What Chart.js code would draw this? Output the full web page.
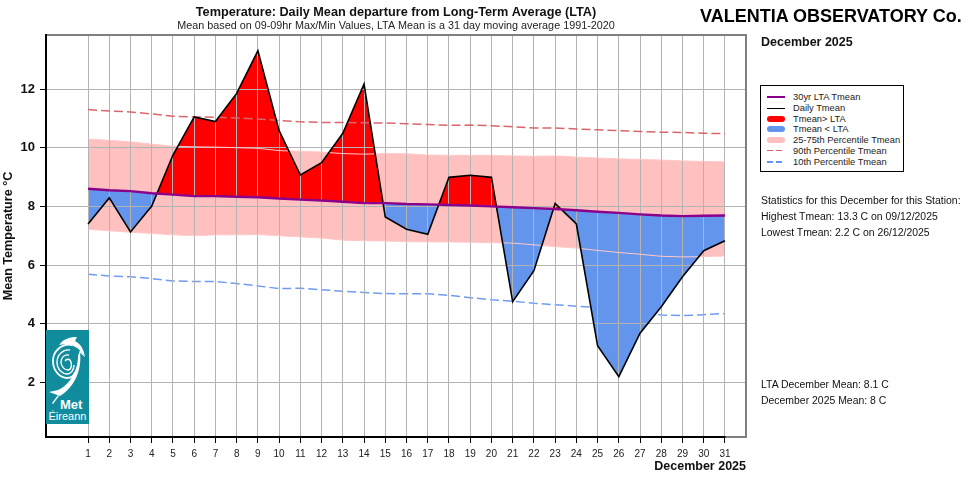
<!DOCTYPE html>
<html>
<head>
<meta charset="utf-8">
<title>Valentia Observatory December 2025</title>
<script src="https://cdn.jsdelivr.net/npm/chart.js@4"></script>
<style>
    html, body { margin: 0; padding: 0; background: #fff; }
    #wrap { position: relative; width: 970px; height: 479px; overflow: hidden; font-family: "Liberation Sans", Arial, sans-serif; color: #111; }
    #line-chart { position: absolute; left: 0; top: 0; }
    .txt { position: absolute; white-space: nowrap; }
    #legendBox { position: absolute; left: 760px; top: 85px; width: 142px; height: 85px; border: 1px solid #000; background: #fff; }
    .row { position: absolute; left: 32px; font-size: 9.33px; line-height: 11px; white-space: nowrap; color: #222; }
    .swatch { position: absolute; left: 6px; width: 18px; }
    #logo { position: absolute; left: 46px; top: 330px; }
</style>
</head>
<body>
<div id="wrap">
    <canvas id="line-chart" width="970" height="479"></canvas>

    <div class="txt" style="left:700px;top:6px;font-size:18px;font-weight:bold;color:#000">VALENTIA OBSERVATORY Co.</div>
    <div class="txt" style="left:761px;top:35px;font-size:12.5px;font-weight:bold">December 2025</div>

    <div id="legendBox"></div>

    <div class="txt" style="left:761px;top:195px;font-size:10.45px">Statistics for this December for this Station:</div>
    <div class="txt" style="left:761px;top:211px;font-size:10.45px">Highest Tmean: 13.3 C on 09/12/2025</div>
    <div class="txt" style="left:761px;top:227px;font-size:10.45px">Lowest Tmean: 2.2 C on 26/12/2025</div>
    <div class="txt" style="left:761px;top:379px;font-size:10.45px">LTA December Mean: 8.1 C</div>
    <div class="txt" style="left:761px;top:395px;font-size:10.45px">December 2025 Mean: 8 C</div>

    <svg id="logo" width="43" height="94" viewBox="46 330 43 94">
        <rect x="46" y="330" width="43" height="94" fill="#108c9c"/>
        <g fill="none" stroke="#fff">
            <path stroke-width="1.8" d="M72 345 C62 343 53 351 53 361 C53 372 61 378 67 378 C71 378 74 376 75 372"/>
            <path stroke-width="1.4" d="M70 350 C63 349 57 355 57 362 C57 370 63 374 67 374 C71 374 74 370 74 365"/>
            <path stroke-width="1.4" d="M69 355 C64 354 61 358 61 362 C61 367 65 370 68 370 C71 370 72 366 71 362 C70 359 67 358 65 361"/>
        </g>
        <path d="M59 345 C64 338 71 337 77 337 L75 341 C81 344 84 350 85 357 C81 350 73 342 59 345 Z" fill="#fff"/>
        <path d="M85 357 L80 353 C82 369 75 387 60 396 L49 392 L58 390 C70 385 78 370 78 356 L80 350 Z" fill="#fff"/>
        <path d="M52 403 L58 395 L59 396 L53 404 Z" fill="#fff"/>
        <text x="60" y="409" fill="#fff" font-size="13" font-weight="bold" font-family="Liberation Sans">Met</text>
        <text x="48.5" y="420" fill="#fff" font-size="11" font-family="Liberation Sans">Éireann</text>
    </svg>
</div>

<script>
var days = [1,2,3,4,5,6,7,8,9,10,11,12,13,14,15,16,17,18,19,20,21,22,23,24,25,26,27,28,29,30,31];
var daily = [7.40,8.29,7.13,8.01,9.75,11.05,10.89,11.85,13.30,10.58,9.07,9.49,10.49,12.17,7.64,7.22,7.05,8.99,9.06,8.99,4.75,5.81,8.10,7.40,3.25,2.20,3.68,4.58,5.60,6.49,6.83];
var lta = [8.60,8.55,8.52,8.45,8.40,8.35,8.35,8.33,8.31,8.27,8.23,8.20,8.16,8.11,8.11,8.08,8.07,8.05,8.03,8.00,7.97,7.94,7.91,7.87,7.82,7.78,7.73,7.69,7.67,7.68,7.69];
var p75 = [10.30,10.25,10.20,10.12,10.05,10.03,10.02,10.00,9.98,9.90,9.88,9.85,9.80,9.78,9.80,9.79,9.75,9.74,9.74,9.74,9.72,9.71,9.72,9.68,9.65,9.62,9.60,9.58,9.55,9.53,9.52];
var p25 = [7.22,7.17,7.12,7.08,7.03,7.00,7.03,7.03,7.04,7.00,6.96,6.92,6.85,6.83,6.82,6.80,6.79,6.79,6.78,6.76,6.75,6.69,6.63,6.58,6.50,6.43,6.37,6.30,6.28,6.29,6.31];
var p90 = [11.30,11.25,11.22,11.15,11.07,11.05,11.04,11.01,10.98,10.93,10.88,10.86,10.86,10.85,10.84,10.82,10.79,10.76,10.77,10.75,10.71,10.67,10.67,10.64,10.61,10.58,10.55,10.53,10.52,10.49,10.48];
var p10 = [5.69,5.63,5.60,5.54,5.46,5.44,5.44,5.37,5.29,5.20,5.21,5.16,5.11,5.07,5.03,5.02,5.02,4.97,4.89,4.82,4.77,4.70,4.65,4.60,4.55,4.48,4.43,4.30,4.28,4.31,4.35];
var yTickValues = [2,4,6,8,10,12];

var legendNames = ['30yr LTA Tmean','Daily Tmean','Tmean> LTA','Tmean < LTA','25-75th Percentile Tmean','90th Percentile Tmean','10th Percentile Tmean'];
var legendTops = [5,16,27,37,48,59,70];
var legendSwatches = [
    'height:2.5px;background:#8b008b',
    'height:1px;background:#000',
    'height:6px;background:#ff0000;border-radius:3px',
    'height:6px;background:#6495ed;border-radius:3px',
    'height:6px;background:#ffc0c0;border-radius:3px',
    'height:1.5px;background:repeating-linear-gradient(90deg,#e0606a 0 6px,transparent 6px 9px)',
    'height:1.5px;background:repeating-linear-gradient(90deg,#6495ed 0 6px,transparent 6px 9px)'
];
var swatchTops = [4.5,6,2.5,3,3,4.5,5];

// build the html legend
var legendBox = document.getElementById('legendBox');
legendNames.forEach(function(name, i) {
    var row = document.createElement('div');
    row.className = 'row';
    row.style.top = (legendTops[i] + 0.5) + 'px';
    row.textContent = name;
    legendBox.appendChild(row);
    var sw = document.createElement('div');
    sw.className = 'swatch';
    sw.style.cssText = legendSwatches[i];
    sw.style.top = (legendTops[i] + swatchTops[i]) + 'px';
    legendBox.appendChild(sw);
});

function toPoints(values) {
    return values.map(function(v, i) { return {x: days[i], y: v}; });
}

function lineSet(label, values, color, width, dash) {
    return {
        label: label,
        data: toPoints(values),
        borderColor: color,
        borderWidth: width,
        borderDash: dash || [],
        pointRadius: 0,
        tension: 0,
        fill: false
    };
}

// grid goes above the fills but under the lines, and the frame is grey with black axes
var gridAndFrame = {
    id: 'gridAndFrame',
    beforeDatasetDraw: function(chart, args) {
        if (chart.data.datasets[args.index].label === 'Fill') {
            chart.scales.x.drawGrid(chart.chartArea);
            chart.scales.y.drawGrid(chart.chartArea);
        }
    },
    afterDraw: function(chart) {
        var a = chart.chartArea;
        var c = chart.ctx;
        c.save();
        c.strokeStyle = '#7f7f7f';
        c.lineWidth = 2;
        c.strokeRect(a.left, a.top, a.right - a.left, a.bottom - a.top);
        c.strokeStyle = '#000';
        c.beginPath();
        c.moveTo(a.left, a.top - 1);
        c.lineTo(a.left, a.bottom + 1);
        c.moveTo(a.left, a.bottom);
        c.lineTo(chart.scales.x.getPixelForValue(31) + 0.5, a.bottom);
        c.stroke();
        c.restore();
    }
};

var ctx = document.getElementById('line-chart').getContext('2d');
var datasets = [
    lineSet('10th', p10, '#6f9cf0', 1.5, [9, 4]),
    Object.assign(lineSet('Band', p75, '#ffc0c0', 0), {fill: '+1', backgroundColor: '#ffc0c0'}),
    lineSet('Band low', p25, '#ffc0c0', 0),
    Object.assign(lineSet('Fill', daily, '#000', 0), {fill: {target: 8, above: '#ff0000', below: '#6495ed'}}),
    lineSet('75th', p75, '#ffc8c8', 1),
    lineSet('25th', p25, '#ffc8c8', 1),
    lineSet('90th', p90, '#d9666c', 1.5, [9, 4]),
    lineSet('Daily', daily, '#000', 1.6),
    lineSet('LTA', lta, '#8b008b', 2.4)
];
// last in the list must draw first, so order follows the reversed index
datasets.forEach(function(d, i) { d.order = datasets.length - i; });

var chart = new Chart(ctx, {
    type: 'line',
    data: {datasets: datasets},
    plugins: [gridAndFrame],
    options: {
        responsive: false,
        animation: false,
        layout: {padding: {left: 0, right: 224, top: 5.5, bottom: 0}},
        plugins: {
            legend: {display: false},
            tooltip: {enabled: false},
            title: {
                display: true,
                fullSize: false,
                text: 'Temperature: Daily Mean departure from Long-Term Average (LTA)',
                color: '#111',
                padding: 0,
                font: {family: 'Liberation Sans', size: 12.7, weight: 'bold', lineHeight: 1.1}
            },
            subtitle: {
                display: true,
                fullSize: false,
                text: 'Mean based on 09-09hr Max/Min Values, LTA Mean is a 31 day moving average 1991-2020',
                color: '#222',
                padding: {top: 0, bottom: 2.57},
                font: {family: 'Liberation Sans', size: 10.8, weight: 'normal', lineHeight: 1.2}
            }
        },
        scales: {
            x: {
                type: 'linear',
                min: -0.98,
                max: 31.99,
                afterBuildTicks: function(scale) {
                    scale.ticks = days.map(function(d) { return {value: d}; });
                },
                afterFit: function(scale) { scale.height = 42; },
                border: {display: false},
                grid: {color: '#b3b3b3', lineWidth: 1, tickLength: 6, tickColor: '#000'},
                ticks: {
                    autoSkip: false,
                    maxRotation: 0,
                    padding: 5,
                    color: '#222',
                    font: {family: 'Liberation Sans', size: 10},
                    callback: function(v) { return String(v); }
                },
                title: {
                    display: true,
                    text: 'December 2025',
                    align: 'end',
                    color: '#111',
                    padding: {top: 0, bottom: 5},
                    font: {family: 'Liberation Sans', size: 12.5, weight: 'bold'}
                }
            },
            y: {
                type: 'linear',
                min: 0.143,
                max: 13.84,
                afterBuildTicks: function(scale) {
                    scale.ticks = yTickValues.map(function(v) { return {value: v}; });
                },
                afterFit: function(scale) { scale.width = 46; },
                border: {display: false},
                grid: {color: '#b3b3b3', lineWidth: 1, tickLength: 6, tickColor: '#000'},
                ticks: {
                    padding: 5,
                    color: '#111',
                    font: {family: 'Liberation Sans', size: 13, weight: 'bold'},
                    callback: function(v) { return String(v); }
                },
                title: {
                    display: true,
                    text: 'Mean Temperature °C',
                    color: '#111',
                    padding: {top: 1, bottom: 0},
                    font: {family: 'Liberation Sans', size: 12.6, weight: 'bold'}
                }
            }
        }
    }
});
</script>
</body>
</html>
